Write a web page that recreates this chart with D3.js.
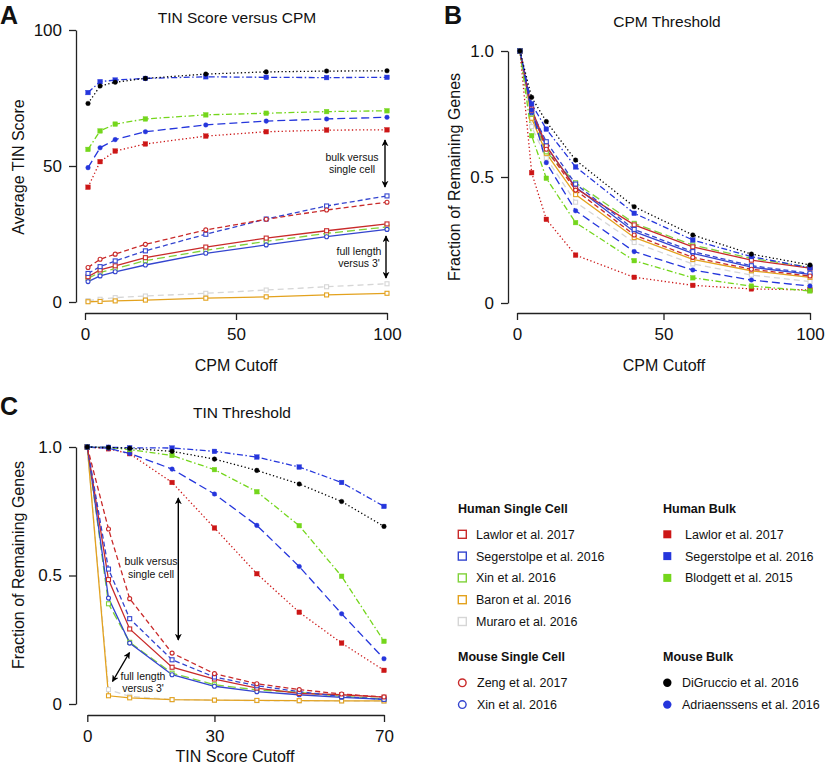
<!DOCTYPE html>
<html><head><meta charset="utf-8">
<script src="https://cdn.jsdelivr.net/npm/d3@7"></script>
<style>
body{margin:0;background:#fff}
svg{display:block}
text{font-family:"Liberation Sans",Arial,Helvetica,sans-serif;fill:#111}
</style>
</head><body>
<svg id="chart" width="832" height="767"></svg>
<script>
// ---------------- DATA ----------------
const seriesNames = [
  "Lawlor et al. 2017", "Segerstolpe et al. 2016", "Xin et al. 2016", "Baron et al. 2016", "Muraro et al. 2016",
  "Zeng et al. 2017", "Xin et al. 2016",
  "Lawlor et al. 2017", "Segerstolpe et al. 2016", "Blodgett et al. 2015",
  "DiGruccio et al. 2016", "Adriaenssens et al. 2016"
];
const seriesGroup = [0,0,0,0,0,2,2,1,1,1,3,3];
const groupNames = ["Human Single Cell","Human Bulk","Mouse Single Cell","Mouse Bulk"];

const cpmCutoffs = [1,5,10,20,40,60,80,100];
const tinCutoffs = [0,5,10,20,30,40,50,60,70];

const cpmTicks = [0,50,100];
const tinScoreTicks = [0,50,100];
const fracTicks = [0,0.5,1.0];
const tinCutoffTicks = [0,30,70];

// Panel A: average TIN score vs CPM cutoff
const tinScoreByCpm = [
  [9.3,11.8,13.3,16.3,20.2,23.5,26.2,28.7],
  [10.5,13.0,15.1,18.8,24.9,30.5,35.3,39.0],
  [8.7,10.9,12.3,15.2,19.0,22.3,25.2,27.6],
  [0.1,0.2,0.4,0.7,1.4,1.9,2.6,3.2],
  [0.5,1.0,1.6,2.2,3.2,4.4,5.6,6.7],
  [12.7,15.7,17.6,21.2,26.5,30.4,33.8,36.7],
  [7.5,9.6,11.1,13.6,17.9,21.0,24.0,26.7],
  [42.2,51.6,55.5,58.1,61.0,62.6,63.2,63.3],
  [77.0,81.0,81.6,82.2,82.8,82.6,82.5,82.6],
  [56.1,62.9,65.4,67.3,68.8,69.4,70.0,70.3],
  [73.0,79.4,80.8,82.2,83.8,84.6,84.9,85.0],
  [49.4,56.7,59.7,62.6,65.1,66.5,67.3,67.9]
];
// Panel B: fraction of remaining genes vs CPM cutoff
const fracByCpm = [
  [1.0,0.77,0.624,0.455,0.31,0.223,0.17,0.138],
  [1.0,0.76,0.64,0.472,0.292,0.204,0.148,0.118],
  [1.0,0.75,0.60,0.477,0.316,0.23,0.177,0.142],
  [1.0,0.733,0.594,0.43,0.26,0.173,0.128,0.102],
  [1.0,0.70,0.575,0.40,0.24,0.155,0.111,0.085],
  [1.0,0.765,0.61,0.448,0.27,0.181,0.134,0.107],
  [1.0,0.755,0.62,0.46,0.283,0.197,0.142,0.114],
  [1.0,0.517,0.332,0.19,0.102,0.07,0.056,0.052],
  [1.0,0.79,0.69,0.54,0.356,0.25,0.184,0.14],
  [1.0,0.664,0.495,0.319,0.168,0.10,0.067,0.048],
  [1.0,0.816,0.72,0.567,0.382,0.27,0.194,0.151],
  [1.0,0.766,0.557,0.366,0.204,0.131,0.091,0.067]
];
// Panel C: fraction of remaining genes vs TIN score cutoff
const fracByTin = [
  [1.0,0.484,0.292,0.143,0.097,0.062,0.041,0.036,0.027],
  [1.0,0.525,0.332,0.172,0.105,0.071,0.048,0.029,0.018],
  [1.0,0.39,0.24,0.12,0.075,0.055,0.045,0.03,0.02],
  [1.0,0.032,0.024,0.017,0.015,0.014,0.013,0.012,0.012],
  [1.0,0.056,0.03,0.017,0.015,0.013,0.012,0.012,0.011],
  [1.0,0.681,0.41,0.198,0.118,0.079,0.056,0.039,0.027],
  [1.0,0.412,0.237,0.114,0.069,0.048,0.036,0.026,0.018],
  [1.0,0.993,0.974,0.862,0.685,0.507,0.357,0.237,0.131],
  [1.0,0.999,0.997,0.996,0.983,0.961,0.922,0.862,0.769],
  [1.0,0.998,0.99,0.967,0.912,0.826,0.694,0.497,0.244],
  [1.0,0.998,0.995,0.983,0.953,0.909,0.856,0.788,0.691],
  [1.0,0.995,0.975,0.914,0.817,0.695,0.535,0.351,0.176]
];

// ---------------- STYLES ----------------
const RED="#cc1616", BLUE="#2536dc", GREEN="#74d61c", ORANGE="#e3a21e", GRAY="#d6d6d6", BLACK="#000";
const DOT="1.3,2.4", DASH="5,3", LDASH="8,4", DASHDOT="6,2.5,1.5,2.5";
const seriesStyle = [
  {color:"#c92a2a", shape:"square", filled:false, dash:null},
  {color:"#3445cf", shape:"square", filled:false, dash:DASH},
  {color:"#80d23a", shape:"square", filled:false, dash:LDASH},
  {color:ORANGE, shape:"square", filled:false, dash:null},
  {color:GRAY, shape:"square", filled:false, dash:"6,4"},
  {color:"#c92a2a", shape:"circle", filled:false, dash:DASH},
  {color:"#3445cf", shape:"circle", filled:false, dash:null},
  {color:RED, shape:"square", filled:true, dash:DOT},
  {color:BLUE, shape:"square", filled:true, dash:DASHDOT},
  {color:GREEN, shape:"square", filled:true, dash:DASHDOT},
  {color:BLACK, shape:"circle", filled:true, dash:DOT},
  {color:BLUE, shape:"circle", filled:true, dash:LDASH}
];
const drawOrder = [4,3,2,6,0,1,5,7,11,9,8,10];

const svg = d3.select("#chart");
const defs = svg.append("defs");
defs.append("marker").attr("id","ah").attr("viewBox","0 0 10 10").attr("refX",9).attr("refY",5)
  .attr("markerWidth",7).attr("markerHeight",7).attr("markerUnits","userSpaceOnUse")
  .attr("orient","auto-start-reverse")
  .append("path").attr("d","M0,0 L10,5 L0,10 L3,5 Z").attr("fill","#000");

function drawAxes(g, x, y, xTicks, yTicks, xAxisY, yAxisX, yFmt){
  const ax = g.append("g").attr("transform",`translate(0,${xAxisY})`)
    .call(d3.axisBottom(x).tickValues(xTicks).tickSize(7).tickSizeOuter(0).tickPadding(8).tickFormat(d3.format("d")));
  const ay = g.append("g").attr("transform",`translate(${yAxisX},0)`)
    .call(d3.axisLeft(y).tickValues(yTicks).tickSize(7).tickSizeOuter(0).tickPadding(7).tickFormat(yFmt));
  [ax,ay].forEach(a=>{
    a.selectAll("path,line").attr("stroke","#222").attr("stroke-width",1.3);
    a.selectAll("text").attr("font-size",17).attr("fill","#111")
      .attr("font-family",'"Liberation Sans",Arial,sans-serif');
  });
}

function marker(g, cx, cy, st, size){
  if(st.shape==="square"){
    const s = st.filled ? size : size-0.6;
    g.append("rect").attr("x",cx-s/2).attr("y",cy-s/2).attr("width",s).attr("height",s)
      .attr("fill", st.filled? st.color : "#fff")
      .attr("stroke", st.color).attr("stroke-width", st.filled?0.4:1.1);
  } else {
    g.append("circle").attr("cx",cx).attr("cy",cy).attr("r", st.filled? size/2 : size/2-0.3)
      .attr("fill", st.filled? st.color : "#fff")
      .attr("stroke", st.color).attr("stroke-width", st.filled?0.4:1.1);
  }
}

function drawSeries(g, xs, data, x, y){
  const line = d3.line().x(d=>x(d[0])).y(d=>y(d[1]));
  drawOrder.forEach(i=>{
    const st = seriesStyle[i];
    const pts = xs.map((v,j)=>[v, data[i][j]]);
    g.append("path").attr("d", line(pts)).attr("fill","none")
      .attr("stroke", st.color).attr("stroke-width",1.3)
      .attr("stroke-dasharray", st.dash);
  });
  drawOrder.forEach(i=>{
    const st = seriesStyle[i];
    xs.forEach((v,j)=> marker(g, x(v), y(data[i][j]), st, 4.6));
  });
}

function text(g, x, y, s, opts={}){
  const t = g.append("text").attr("x",x).attr("y",y).text(s)
    .attr("font-size", opts.size||15).attr("text-anchor", opts.anchor||"middle");
  if(opts.weight) t.attr("font-weight", opts.weight);
  if(opts.rotate) t.attr("transform",`rotate(-90,${x},${y})`);
  if(opts.fill) t.attr("fill", opts.fill);
  return t;
}
function arrow(g, x1,y1,x2,y2){
  g.append("line").attr("x1",x1).attr("y1",y1).attr("x2",x2).attr("y2",y2)
    .attr("stroke","#000").attr("stroke-width",1.4)
    .attr("marker-start","url(#ah)").attr("marker-end","url(#ah)");
}

// ---------------- PANEL A ----------------
{
  const g = svg.append("g");
  const x = d3.scaleLinear().domain([0,100]).range([85,387]);
  const y = d3.scaleLinear().domain([0,100]).range([302,30]);
  drawAxes(g, x, y, cpmTicks, tinScoreTicks, 313, 76, d3.format("d"));
  drawSeries(g, cpmCutoffs, tinScoreByCpm, x, y);
  text(g, 0, 24, "A", {size:25, anchor:"start", weight:"bold"});
  text(g, 237, 23, "TIN Score versus CPM", {size:15.5});
  text(g, 236, 371, "CPM Cutoff", {size:16});
  text(g, 24, 167, "Average TIN Score", {size:16, rotate:true});
  text(g, 352, 161, "bulk versus", {size:10.5, fill:"#222"});
  text(g, 352, 173, "single cell", {size:10.5, fill:"#222"});
  arrow(g, 385, 140, 385, 187);
  text(g, 359, 255, "full length", {size:10.5, fill:"#222"});
  text(g, 359, 267, "versus 3'", {size:10.5, fill:"#222"});
  arrow(g, 386, 236, 386, 278);
}

// ---------------- PANEL B ----------------
{
  const g = svg.append("g");
  const x = d3.scaleLinear().domain([0,100]).range([517,810]);
  const y = d3.scaleLinear().domain([0,1]).range([303,51]);
  drawAxes(g, x, y, cpmTicks, fracTicks, 313, 508, d=> d===0? "0" : d3.format(".1f")(d));
  drawSeries(g, cpmCutoffs, fracByCpm, x, y);
  text(g, 444, 24, "B", {size:25, anchor:"start", weight:"bold"});
  text(g, 667, 27, "CPM Threshold", {size:15.5});
  text(g, 664, 371, "CPM Cutoff", {size:16});
  text(g, 460, 177, "Fraction of Remaining Genes", {size:16, rotate:true});
}

// ---------------- PANEL C ----------------
{
  const g = svg.append("g");
  const x = d3.scaleLinear().domain([0,70]).range([87.3,384]);
  const y = d3.scaleLinear().domain([0,1]).range([704,447]);
  drawAxes(g, x, y, tinCutoffTicks, fracTicks, 715, 76, d=> d===0? "0" : d3.format(".1f")(d));
  drawSeries(g, tinCutoffs, fracByTin, x, y);
  text(g, 0, 415, "C", {size:25, anchor:"start", weight:"bold"});
  text(g, 242, 418, "TIN Threshold", {size:15.5});
  text(g, 235, 762, "TIN Score Cutoff", {size:16});
  text(g, 24, 565, "Fraction of Remaining Genes", {size:16, rotate:true});
  text(g, 151, 565, "bulk versus", {size:10.5, fill:"#222"});
  text(g, 151, 578, "single cell", {size:10.5, fill:"#222"});
  arrow(g, 178.3, 498, 178.3, 640);
  text(g, 143, 680, "full length", {size:10.5, fill:"#222"});
  text(g, 143, 692, "versus 3'", {size:10.5, fill:"#222"});
  arrow(g, 129.5, 652.5, 112.5, 681.5);
}

// ---------------- LEGEND ----------------
{
  const g = svg.append("g");
  const headerPos = [[458,512.5],[663,512.5],[458,661],[663,661]];
  const markerX = [462.3,667.3,462.3,667.3];
  const textX = [476,685,477,682];
  const rowStep = 21.8;
  groupNames.forEach((name,gi)=>{
    text(g, headerPos[gi][0], headerPos[gi][1], name, {size:12.5, anchor:"start", weight:"bold"});
    const members = seriesNames.map((n,i)=>i).filter(i=>seriesGroup[i]===gi);
    members.forEach((si,k)=>{
      const cy = headerPos[gi][1] + 21.8 + k*rowStep;
      const st = seriesStyle[si];
      if(st.shape==="square"){
        const s = 8;
        g.append("rect").attr("x",markerX[gi]-s/2).attr("y",cy-s/2).attr("width",s).attr("height",s)
          .attr("fill", st.filled? st.color : "none").attr("stroke", st.color).attr("stroke-width", st.filled?0:1.4);
      } else {
        g.append("circle").attr("cx",markerX[gi]).attr("cy",cy).attr("r", st.filled?4.2:3.8)
          .attr("fill", st.filled? st.color : "none").attr("stroke", st.color).attr("stroke-width", st.filled?0:1.4);
      }
      text(g, textX[gi], cy+4.5, seriesNames[si], {size:12.5, anchor:"start"});
    });
  });
}
</script>
</body></html>
